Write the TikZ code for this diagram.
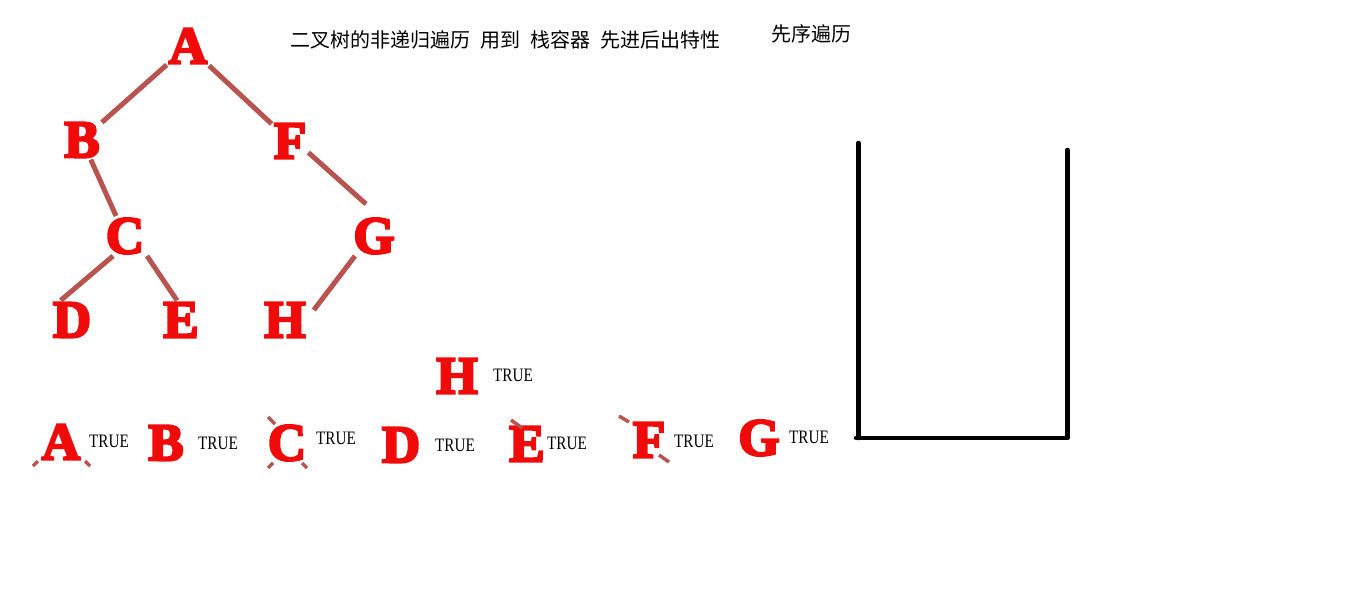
\documentclass[tikz,border=0pt]{standalone}
\usepackage{fontspec}
\setmainfont{Liberation Serif}
\newfontfamily\keyfont{Liberation Serif}[FakeBold=4.5]
\newfontfamily\cjk{Noto Sans CJK SC}
\usetikzlibrary{positioning}
\definecolor{keyred}{HTML}{F00A0A}
\definecolor{edgebrown}{HTML}{B85450}

\begin{document}
\begin{tikzpicture}[x=1pt,y=-1pt,
 key/.style={font=\keyfont\bfseries\fontsize{53}{53}\selectfont,text=keyred,inner sep=2pt},
 edge/.style={draw=edgebrown,line width=5pt},
 flag/.style={font=\fontsize{19}{19}\selectfont,inner sep=0pt},
 note/.style={font=\cjk\fontsize{20}{20}\selectfont,inner sep=0pt,anchor=west},
 wall/.style={line width=4.5pt,line cap=round,line join=round}]
\useasboundingbox (0,0) rectangle (1360,604);
% tree
\node[key] (tA) at (188,46) {A};
\node[key] (tB) at (82,140) {B};
\node[key] (tF) at (290,141) {F};
\node[key] (tC) at (125,236) {C};
\node[key] (tG) at (374,236) {G};
\node[key] (tD) at (72,320) {D};
\node[key] (tE) at (181,320) {E};
\node[key] (tH) at (285,320) {H};
\draw[edge] (tA) -- (tB);
\draw[edge] (tA) -- (tF);
\draw[edge] (tB) -- (tC);
\draw[edge] ([yshift=8pt]tF.south east) -- ([xshift=-8pt,yshift=12pt]tG.north);
\draw[edge] ([xshift=-12pt]tC.south) -- ([xshift=10pt]tD.north west);
\draw[edge] ([xshift=22pt]tC.south) -- ([xshift=-4pt]tE.north);
\draw[edge] ([xshift=-19pt]tG.south) -- ([xshift=6pt,yshift=10pt]tH.east);
% headings
\node[note] (title) at (290,40) {二叉树的非递归遍历\hspace{.5em}用到\hspace{.5em}栈容器\hspace{.5em}先进后出特性};
\node[note] (order) at (771,34) {先序遍历};
% visited letters
\foreach \k/\x/\y/\fx/\fy in {A/61/442/109/441,B/166/443/218/443,C/287/443/336/438,
  D/401/445/455/445,E/527/444/567/443,F/649/440/694/441,G/759/438/809/437,H/457/376/513/375} {
 \node[key] (s\k) at (\x,\y) {\k};
 \node[flag] (f\k) at (\fx,\fy) {\scalebox{.8}[1]{TRUE}};
}
% left-over bits of cut lines
\draw[edge,line width=3.5pt] (33,466) -- (38,461) (85,461) -- (90,466);
\draw[edge,line width=3.5pt] (268,417) -- (275,424) (268,468) -- (273,463) (302,463) -- (307,468);
\draw[edge,line width=3.5pt] (511,420) -- (522,428);
\draw[edge,line width=3.5pt] (619,416) -- (629,422) (659,455) -- (669,462);
% stack
\coordinate (stL) at (858.5,143);
\coordinate (sbL) at (856,438);
\coordinate (sbR) at (1067.5,438);
\coordinate (stR) at (1067.5,150);
\draw[wall] (stL) -- (858.5,438);
\draw[wall] (sbL) -- (sbR) -- (stR);
\end{tikzpicture}
\end{document}
